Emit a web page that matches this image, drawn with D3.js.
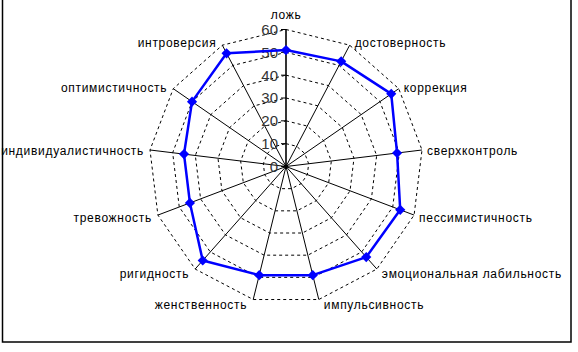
<!DOCTYPE html>
<html>
<head>
<meta charset="utf-8">
<script src="https://cdn.jsdelivr.net/npm/d3@7"></script>
<style>
  body { margin: 0; background: #fff; }
  text { font-family: "Liberation Sans", Arial, sans-serif; }
</style>
</head>
<body>
<div id="chart"></div>
<script>
const width = 578;
const height = 352;

const categories = [
    "ложь", "достоверность", "коррекция", "сверхконтроль", "пессимистичность",
    "эмоциональная лабильность", "импульсивность", "женственность", "ригидность",
    "тревожность", "индивидуалистичность", "оптимистичность", "интроверсия"
];
const values = [51, 52, 56, 49, 53.5, 53, 49, 49, 55, 45, 45, 50, 56];
const tickValues = [0, 10, 20, 30, 40, 50, 60];

const cx = 286, cy = 166.5, R = 137;

const svg = d3.select("#chart")
    .append("svg")
    .attr("width", width)
    .attr("height", height);

// frame
svg.append("rect")
    .attr("x", 2.5).attr("y", -2)
    .attr("width", 568.5).attr("height", 344)
    .attr("fill", "none")
    .attr("stroke", "#000")
    .attr("stroke-width", 1.5);

const r = d3.scaleLinear().domain([0, 60]).range([0, R]);
const angle = d3.scaleLinear().domain([0, categories.length]).range([0, 2 * Math.PI]);

const g = svg.append("g").attr("transform", "translate(" + cx + "," + cy + ")");

const px = (i, v) => r(v) * Math.sin(angle(i));
const py = (i, v) => -r(v) * Math.cos(angle(i));

// dashed grid polygons
tickValues.filter(t => t > 0).forEach(t => {
    g.append("path")
        .attr("d", d3.line()(categories.map((c, i) => [px(i, t), py(i, t)])) + "Z")
        .attr("fill", "none")
        .attr("stroke", "#000")
        .attr("stroke-width", 1)
        .attr("stroke-dasharray", "3,3");
});

// spokes
categories.forEach((c, i) => {
    g.append("line")
        .attr("x1", 0).attr("y1", 0)
        .attr("x2", px(i, 60)).attr("y2", py(i, 60))
        .attr("stroke", "#000")
        .attr("stroke-width", i === 0 ? 1.6 : 1);
});

// value axis ticks + labels
tickValues.forEach(t => {
    g.append("line")
        .attr("x1", -5).attr("x2", 0)
        .attr("y1", -r(t)).attr("y2", -r(t))
        .attr("stroke", "#000");
    g.append("text")
        .attr("x", -8)
        .attr("y", -r(t))
        .attr("dy", "0.36em")
        .attr("text-anchor", "end")
        .attr("font-size", 15)
        .attr("fill", "#333")
        .text(t);
});

g.append("circle").attr("r", 2).attr("fill", "#000");

// category labels
categories.forEach((c, i) => {
    const s = Math.sin(angle(i)), co = Math.cos(angle(i));
    const ex = px(i, 60), ey = py(i, 60);
    let anchor = "middle", x = ex, y = ey - 4 * co + 1.5;
    if (i === 0) { y = ey - 15; }
    else if (s > 0) { anchor = "start"; x = ex + 5; }
    else { anchor = "end"; x = ex - 6; }
    g.append("text")
        .attr("x", x).attr("y", y)
        .attr("dy", "0.35em")
        .attr("text-anchor", anchor)
        .attr("font-size", 12)
        .attr("letter-spacing", "0.7px")
        .attr("fill", "#000")
        .text(c);
});

// series
const pts = values.map((v, i) => [px(i, v), py(i, v)]);
g.append("path")
    .attr("d", d3.line()(pts) + "Z")
    .attr("fill", "none")
    .attr("stroke", "#0000ff")
    .attr("stroke-width", 2.5)
    .attr("stroke-linejoin", "round");

g.selectAll(".marker")
    .data(values)
    .join("path")
    .attr("class", "marker")
    .attr("d", d3.symbol().type(d3.symbolSquare).size(52))
    .attr("transform", (v, i) => "translate(" + px(i, v) + "," + py(i, v) + ") rotate(45)")
    .attr("fill", "#0000ff");
</script>
</body>
</html>
